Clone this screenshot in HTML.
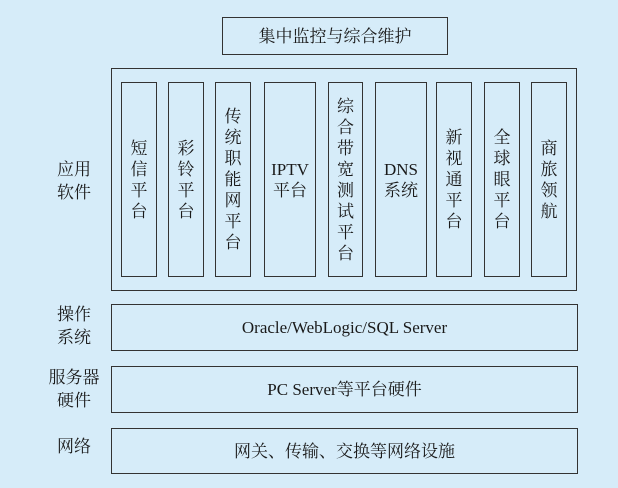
<!DOCTYPE html>
<html><head><meta charset="utf-8"><style>
body{margin:0;width:618px;height:488px;background:#d6ecf9;position:relative;overflow:hidden;font-family:"Liberation Serif","Noto Serif CJK SC",serif;color:#1a1a1a;}
.b{position:absolute;border:1.5px solid #333;box-sizing:border-box;display:flex;align-items:center;justify-content:center;text-align:center;font-size:16px;line-height:21px;}
.c{width:1em;line-height:21px;font-size:17px;}
.l{position:absolute;font-size:17px;line-height:23px;text-align:center;width:60px;}
</style></head><body>
<div class="b" style="left:222px;top:17px;width:226px;height:38px;font-size:17px">集中监控与综合维护</div>
<div class="b" style="left:111px;top:68px;width:466px;height:223px"></div>
<div class="b" style="left:121px;top:82px;width:36px;height:195px"><div class="c">短信平台</div></div>
<div class="b" style="left:168px;top:82px;width:36px;height:195px"><div class="c">彩铃平台</div></div>
<div class="b" style="left:215px;top:82px;width:36px;height:195px"><div class="c">传统职能网平台</div></div>
<div class="b" style="left:264px;top:82px;width:52px;height:195px;font-size:17px">IPTV<br>平台</div>
<div class="b" style="left:328px;top:82px;width:35px;height:195px"><div class="c">综合带宽测试平台</div></div>
<div class="b" style="left:375px;top:82px;width:52px;height:195px;font-size:17px">DNS<br>系统</div>
<div class="b" style="left:436px;top:82px;width:36px;height:195px"><div class="c">新视通平台</div></div>
<div class="b" style="left:484px;top:82px;width:36px;height:195px"><div class="c">全球眼平台</div></div>
<div class="b" style="left:531px;top:82px;width:36px;height:195px"><div class="c">商旅领航</div></div>
<div class="l" style="left:44px;top:158px">应用<br>软件</div>
<div class="b" style="left:111px;top:304px;width:467px;height:47px;font-size:17px">Oracle/WebLogic/SQL Server</div>
<div class="l" style="left:44px;top:303px">操作<br>系统</div>
<div class="b" style="left:111px;top:366px;width:467px;height:47px;font-size:17px">PC Server等平台硬件</div>
<div class="l" style="left:42px;top:366px;width:64px">服务器<br>硬件</div>
<div class="b" style="left:111px;top:428px;width:467px;height:46px;font-size:17px">网关、传输、交换等网络设施</div>
<div class="l" style="left:44px;top:435px">网络</div>
</body></html>
